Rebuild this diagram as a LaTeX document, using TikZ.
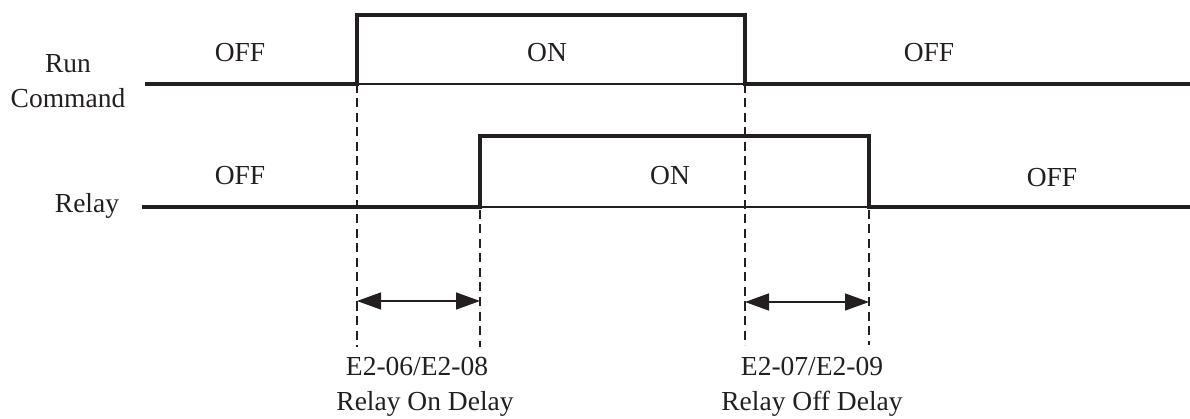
\documentclass[tikz,border=0pt]{standalone}
\usepackage{fontspec}
\setmainfont{Liberation Serif}
\usetikzlibrary{arrows.meta}
\definecolor{ink}{RGB}{35,31,32}
\begin{document}
\begin{tikzpicture}[x=1pt,y=-1pt,
  sig/.style={draw=ink,line width=3.3pt,line join=miter},
  thinsig/.style={draw=ink,line width=1.4pt},
  guide/.style={draw=ink,line width=1.4pt,dash pattern=on 9pt off 5.5pt},
  span/.style={draw=ink,line width=1.4pt,{Triangle[length=24pt,width=17pt]}-{Triangle[length=24pt,width=17pt]}},
  lbl/.style={text=ink,font=\fontsize{27.5pt}{33pt}\selectfont,anchor=base,inner sep=0pt}]
\useasboundingbox (0,0) rectangle (1190,419);
% Run command signal
\coordinate (r0) at (145,84);
\coordinate (r1) at (357,84);
\coordinate (r2) at (357,15);
\coordinate (r3) at (745,15);
\coordinate (r4) at (745,84);
\coordinate (r5) at (1190,84);
\draw[sig] (r0) -- (r1) -- (r2) -- (r3) -- (r4) -- (r5);
\draw[thinsig] (r1) -- (r4);
% Relay signal
\coordinate (q0) at (142,207);
\coordinate (q1) at (480,207);
\coordinate (q2) at (480,136);
\coordinate (q3) at (869,136);
\coordinate (q4) at (869,207);
\coordinate (q5) at (1190,207);
\draw[sig] (q0) -- (q1) -- (q2) -- (q3) -- (q4) -- (q5);
\draw[thinsig] (q1) -- (q4);
% guide lines
\coordinate (g1) at (357,347);
\coordinate (g2) at (480,347);
\coordinate (g3) at (745,345);
\coordinate (g4) at (869,345);
\coordinate (g2t) at (480,210);
\coordinate (g4t) at (869,210);
\draw[guide] (r1) -- (g1);
\draw[guide] (g2t) -- (g2);
\draw[guide] (r4) -- (g3);
\draw[guide] (g4t) -- (g4);
% delay spans
\coordinate (a1) at (357,301);
\coordinate (a2) at (480,301);
\coordinate (b1) at (745,302);
\coordinate (b2) at (869,302);
\draw[span] (a1) -- (a2);
\draw[span] (b1) -- (b2);
% labels
\node[lbl] (run) at (68,73) {Run};
\node[lbl] (cmd) at (68,108) {Command};
\node[lbl] (rel) at (87,213) {Relay};
\node[lbl] (off1) at (240,62) {OFF};
\node[lbl] (on1) at (547,62) {ON};
\node[lbl] (off2) at (929,62) {OFF};
\node[lbl] (off3) at (240,185) {OFF};
\node[lbl] (on2) at (670,185) {ON};
\node[lbl] (off4) at (1052,187) {OFF};
\node[lbl] (e1) at (417,375) {E2-06/E2-08};
\node[lbl] (e1b) at (425,410) {Relay On Delay};
\node[lbl] (e2) at (812,375) {E2-07/E2-09};
\node[lbl] (e2b) at (812,410) {Relay Off Delay};
\end{tikzpicture}
\end{document}
